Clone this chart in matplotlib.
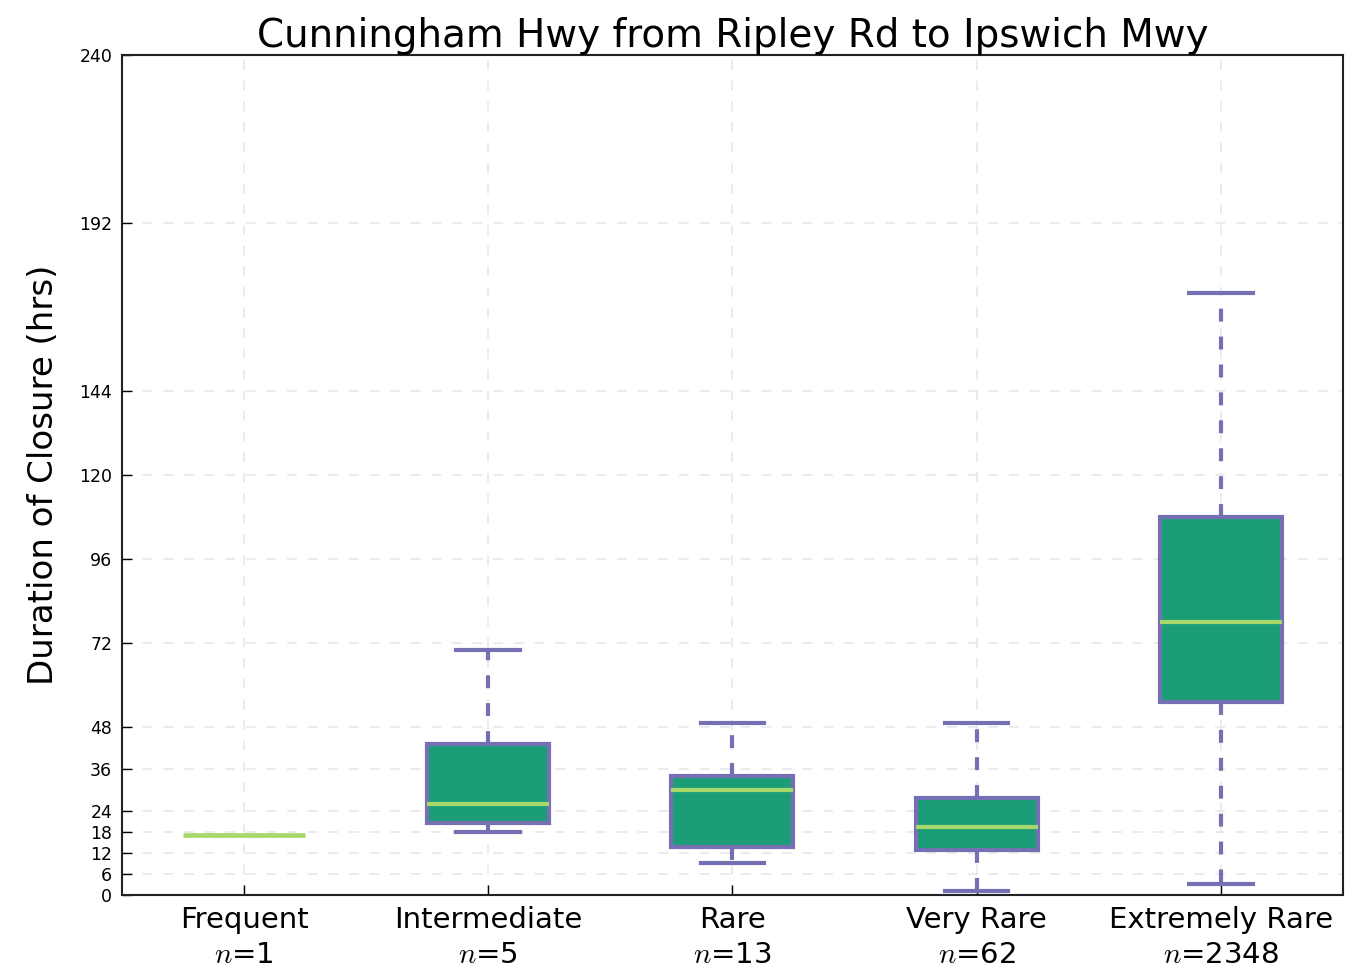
import numpy as np
import matplotlib
matplotlib.use("Agg")
import matplotlib.pyplot as plt

plt.rcParams["mathtext.fontset"] = "cm"

# closure durations (hrs) per flood frequency class
categories = ["Frequent", "Intermediate", "Rare", "Very Rare", "Extremely Rare"]
counts = [1, 5, 13, 62, 2348]
whislo = [17, 18, 9, 1, 3]
q1 = [17, 20.5, 13.7, 12.9, 55]
med = [17, 26, 30, 19.5, 78]
q3 = [17, 43, 34, 27.7, 108]
whishi = [17, 70, 49, 49, 172]
yticks = [0, 6, 12, 18, 24, 36, 48, 72, 96, 120, 144, 192, 240]

stats = []
for i in range(len(categories)):
    stats.append(dict(whislo=whislo[i], q1=q1[i], med=med[i], q3=q3[i],
                      whishi=whishi[i], fliers=[], label=categories[i]))

fig = plt.figure(figsize=(13.67, 9.73), dpi=100)
ax = fig.add_axes([0.0892, 0.0802, 0.8932, 0.8633])

edge = "#7570b3"
face = "#1b9e77"
medc = "#a6d96a"
lw = 3.0

# n=1 gets only a median line
for i, s in enumerate(stats):
    if counts[i] > 1:
        ax.bxp([s], positions=[i + 1], widths=0.5, patch_artist=True, showfliers=False,
               capwidths=0.26,
               boxprops=dict(facecolor=face, edgecolor=edge, linewidth=lw),
               whiskerprops=dict(color=edge, linewidth=lw, linestyle=(0, (3.1, 3.6))),
               capprops=dict(color=edge, linewidth=lw),
               medianprops=dict(color=medc, linewidth=lw))
    else:
        ax.bxp([s], positions=[i + 1], widths=0.5, showbox=False, showcaps=False,
               showfliers=False, medianprops=dict(color=medc, linewidth=lw + 0.4))

ax.grid(True, color="#e6e6e6", linestyle=(0, (6.5, 7)), linewidth=1.1)
ax.set_axisbelow(True)

ax.set_xlim(0.5, 5.5)
ax.set_ylim(0, 240)
ax.set_yticks(yticks)
ax.set_xticks(range(1, len(categories) + 1))
ax.set_xticklabels([f"{c}\n$n$={n}" for c, n in zip(categories, counts)], fontsize=21,
                   linespacing=1.3)
ax.tick_params(axis="y", labelsize=12.5, direction="in", length=7, width=1, pad=7)
ax.tick_params(axis="x", direction="in", length=7, width=1, pad=8)
for sp in ax.spines.values():
    sp.set_linewidth(1.5)
    sp.set_color("#222222")

ax.set_ylabel("Duration of Closure (hrs)", fontsize=24.5, labelpad=14)
ax.set_title("Cunningham Hwy from Ripley Rd to Ipswich Mwy", fontsize=28, pad=3)

fig.savefig("out.png", dpi=100)
